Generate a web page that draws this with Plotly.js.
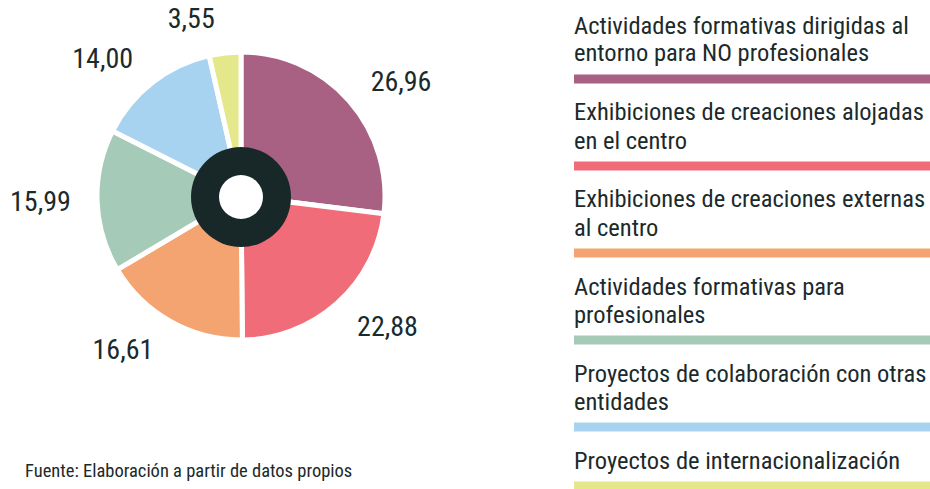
<!DOCTYPE html>
<html><head><meta charset="utf-8">
<script src="https://cdn.plot.ly/plotly-3.0.1.min.js"></script>
<style>html,body{margin:0;padding:0;background:#fff}#chart{width:930px;height:489px}</style>
</head><body><div id="chart"></div>
<script>
// Data
const categories = [
  "Actividades formativas dirigidas al<br>entorno para NO profesionales",
  "Exhibiciones de creaciones alojadas<br>en el centro",
  "Exhibiciones de creaciones externas<br>al centro",
  "Actividades formativas para<br>profesionales",
  "Proyectos de colaboración con otras<br>entidades",
  "Proyectos de internacionalización"
];
const values = [26.96, 22.88, 16.61, 15.99, 14.00, 3.55];
const colors = ["#A86083", "#F06C78", "#F4A470", "#A6CAB8", "#A7D3F0", "#E4E88A"];
const source = "Fuente: Elaboración a partir de datos propios";

const W = 930, H = 489;
const FONT = "Roboto Condensed, DejaVu Sans Condensed, sans-serif";
const TXT = "#1b2a2b";
const px = x => x / W, py = y => 1 - y / H;

// pie geometry (pixels)
const cx = 241, cy = 196, r = 144, rl = 162;
const labels = categories.map(c => c.replace("<br>", " "));

const slices = {
  type: "pie",
  labels: labels,
  values: values,
  sort: false,
  direction: "clockwise",
  rotation: 0,
  marker: {colors: colors, line: {color: "#ffffff", width: 5}},
  textinfo: "none",
  domain: {x: [px(cx - r), px(cx + r)], y: [py(cy + r), py(cy - r)]},
  showlegend: false
};
// same data, transparent, only used to place the value labels a bit further out
const valueLabels = {
  type: "pie",
  labels: labels,
  values: values,
  sort: false,
  direction: "clockwise",
  rotation: 0,
  marker: {colors: values.map(() => "rgba(0,0,0,0)"), line: {width: 0}},
  textposition: "outside",
  texttemplate: "%{value:.2f}",
  outsidetextfont: {family: FONT, size: 28, color: TXT},
  domain: {x: [px(cx - rl), px(cx + rl)], y: [py(cy + rl), py(cy - rl)]},
  showlegend: false
};

const annotations = [];
const shapes = [];
// legend block
let baseline = 34;
const lineGap = 28, legX = 574, fs = 24.5;
categories.forEach((c, i) => {
  const lines = c.split("<br>");
  lines.forEach((ln, k) => {
    annotations.push({
      xref: "paper", yref: "paper", x: px(legX - 2), y: py(baseline - 9),
      xanchor: "left", yanchor: "middle", showarrow: false, text: ln,
      font: {family: FONT, size: fs, color: TXT}
    });
    if (k < lines.length - 1) baseline += lineGap;
  });
  const barY = baseline + 17;
  shapes.push({
    type: "rect", xref: "paper", yref: "paper",
    x0: px(legX), x1: 1, y0: py(barY - 4.5), y1: py(barY + 4.5),
    fillcolor: colors[i], line: {width: 0}, layer: "above"
  });
  baseline = barY + 42;
});

// centre ring
shapes.push({type: "circle", xref: "paper", yref: "paper",
  x0: px(cx - 50), x1: px(cx + 50), y0: py(cy + 51), y1: py(cy - 49),
  fillcolor: "#182829", line: {width: 0}, layer: "above"});
shapes.push({type: "circle", xref: "paper", yref: "paper",
  x0: px(cx - 22), x1: px(cx + 22), y0: py(cy + 23), y1: py(cy - 21),
  fillcolor: "#ffffff", line: {width: 0}, layer: "above"});

annotations.push({
  xref: "paper", yref: "paper", x: px(23), y: py(471),
  xanchor: "left", yanchor: "middle", showarrow: false, text: source,
  font: {family: FONT, size: 18.5, color: TXT}
});

const layout = {
  width: W, height: H,
  margin: {l: 0, r: 0, t: 0, b: 0},
  paper_bgcolor: "#ffffff",
  separators: ",.",
  annotations: annotations,
  shapes: shapes,
  showlegend: false
};

Plotly.newPlot("chart", [slices, valueLabels], layout, {displayModeBar: false, staticPlot: true});
</script>
</body></html>
